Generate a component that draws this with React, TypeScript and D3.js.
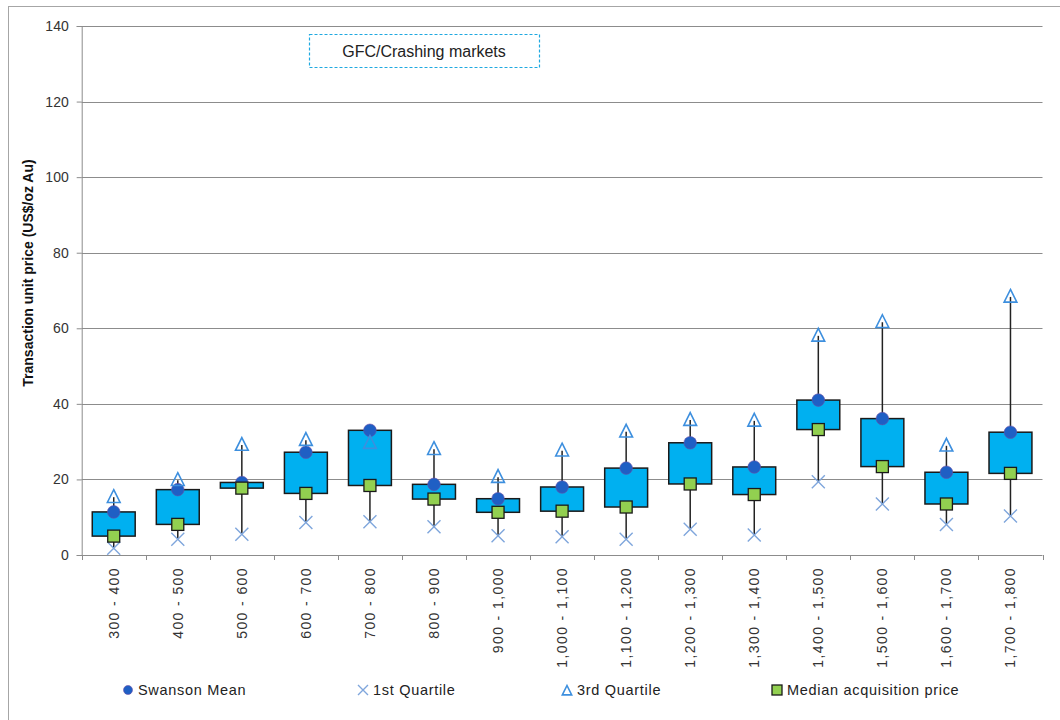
import React, { useEffect, useRef } from "react";
import * as d3 from "d3";

const categories = [
  "300 - 400", "400 - 500", "500 - 600", "600 - 700", "700 - 800",
  "800 - 900", "900 - 1,000", "1,000 - 1,100", "1,100 - 1,200", "1,200 - 1,300",
  "1,300 - 1,400", "1,400 - 1,500", "1,500 - 1,600", "1,600 - 1,700", "1,700 - 1,800",
];
const swansonMean = [11.4, 17.3, 19.2, 27.2, 33.0, 18.7, 14.9, 18.0, 23.0, 29.7, 23.3, 41.0, 36.1, 21.9, 32.5];
const firstQuartile = [1.8, 4.2, 5.5, 8.6, 8.8, 7.5, 5.1, 4.8, 4.2, 6.8, 5.3, 19.4, 13.5, 8.1, 10.3];
const thirdQuartile = [15.3, 19.8, 29.1, 30.4, 29.6, 28.0, 20.6, 27.6, 32.6, 35.7, 35.5, 58.0, 61.6, 28.9, 68.3];
const medianPrice = [5.0, 8.1, 17.7, 16.3, 18.4, 14.8, 11.3, 11.6, 12.7, 18.8, 16.0, 33.2, 23.4, 13.5, 21.6];
const yTicks = [0, 20, 40, 60, 80, 100, 120, 140];
const legendItems = ["Swanson Mean", "1st Quartile", "3rd Quartile", "Median acquisition price"];

const FONT = "'Liberation Sans', Arial, sans-serif";

export default function App() {
  const ref = useRef<SVGSVGElement>(null);

  useEffect(() => {
    if (!ref.current) return;
    const svg = d3.select(ref.current);
    svg.selectAll("*").remove();

    const left = 81.7;
    const right = 1042.5;
    const top = 26;
    const bottom = 555;

    const x = d3.scaleBand().domain(categories).range([left, right]).padding(0);
    const y = d3.scaleLinear().domain([0, 140]).range([bottom, top]);
    const bw = x.bandwidth();
    const boxW = bw * 0.67;

    const rows = categories.map((c, i) => ({
      c,
      mean: swansonMean[i],
      q1: firstQuartile[i],
      q3: thirdQuartile[i],
      med: medianPrice[i],
    }));

    // outer chart border
    svg.append("rect")
      .attr("x", 8.5).attr("y", 6.5).attr("width", 1100).attr("height", 800)
      .attr("fill", "none").attr("stroke", "#a6a6a6").attr("stroke-width", 1);

    // gridlines
    svg.append("g")
      .selectAll("line")
      .data(yTicks.filter((t) => t > 0))
      .enter()
      .append("line")
      .attr("x1", left).attr("x2", right)
      .attr("y1", (d) => Math.round(y(d)) + 0.5)
      .attr("y2", (d) => Math.round(y(d)) + 0.5)
      .attr("stroke", "#8c8c8c").attr("stroke-width", 1);

    // y axis
    const yAxis = svg.append("g")
      .attr("transform", `translate(${left},0)`)
      .call(d3.axisLeft(y).tickValues(yTicks).tickSize(5).tickPadding(8));
    yAxis.selectAll("path, line").attr("stroke", "#8c8c8c");
    yAxis.selectAll("text")
      .attr("font-family", FONT).attr("font-size", 14).attr("fill", "#333");

    // x axis line + boundary ticks
    svg.append("line")
      .attr("x1", left).attr("x2", right)
      .attr("y1", bottom + 0.5).attr("y2", bottom + 0.5)
      .attr("stroke", "#8c8c8c");
    const bounds = categories.map((c) => x(c) as number).concat([right]);
    svg.append("g")
      .selectAll("line")
      .data(bounds)
      .enter()
      .append("line")
      .attr("x1", (d) => Math.round(d) + 0.5).attr("x2", (d) => Math.round(d) + 0.5)
      .attr("y1", bottom).attr("y2", bottom + 5)
      .attr("stroke", "#8c8c8c");

    // x labels
    svg.append("g")
      .selectAll("text")
      .data(categories)
      .enter()
      .append("text")
      .attr("transform", (d) => `translate(${(x(d) as number) + bw / 2 + 5},567) rotate(-90)`)
      .attr("text-anchor", "end")
      .attr("font-family", FONT).attr("font-size", 14).attr("letter-spacing", 1.4)
      .attr("fill", "#333")
      .text((d) => d);

    // y title
    svg.append("text")
      .attr("transform", "translate(33,273) rotate(-90)")
      .attr("text-anchor", "middle")
      .attr("font-family", FONT).attr("font-size", 14).attr("font-weight", "bold")
      .attr("fill", "#111")
      .text("Transaction unit price (US$/oz Au)");

    const cx = (d: { c: string }) => (x(d.c) as number) + bw / 2;

    // high-low lines
    svg.append("g")
      .selectAll("line")
      .data(rows)
      .enter()
      .append("line")
      .attr("x1", cx).attr("x2", cx)
      .attr("y1", (d) => y(Math.max(d.mean, d.q1, d.q3, d.med)))
      .attr("y2", (d) => y(Math.min(d.mean, d.q1, d.q3, d.med)))
      .attr("stroke", "#222").attr("stroke-width", 1.5);

    // up-down bars (mean vs median)
    svg.append("g")
      .selectAll("rect")
      .data(rows)
      .enter()
      .append("rect")
      .attr("x", (d) => cx(d) - boxW / 2)
      .attr("y", (d) => y(Math.max(d.mean, d.med)))
      .attr("width", boxW)
      .attr("height", (d) => Math.abs(y(d.mean) - y(d.med)))
      .attr("fill", "#00b0f0").attr("stroke", "#1a1a1a").attr("stroke-width", 1.5);

    const drawMean = (g: d3.Selection<SVGGElement, unknown, null, undefined>, px: number, py: number, r: number) =>
      g.append("circle").attr("cx", px).attr("cy", py).attr("r", r)
        .attr("fill", "#1f5fc4").attr("stroke", "#6a4fa8").attr("stroke-width", 0.6);
    const drawX = (g: d3.Selection<SVGGElement, unknown, null, undefined>, px: number, py: number, s: number) => {
      g.append("path")
        .attr("d", `M${px - s},${py - s}L${px + s},${py + s}M${px - s},${py + s}L${px + s},${py - s}`)
        .attr("stroke", "#7fa6dc").attr("stroke-width", 1.4).attr("fill", "none");
    };
    const drawTri = (g: d3.Selection<SVGGElement, unknown, null, undefined>, px: number, py: number, s: number) => {
      g.append("path")
        .attr("d", `M${px},${py - s}L${px + s * 0.85},${py + s * 0.7}L${px - s * 0.85},${py + s * 0.7}Z`)
        .attr("stroke", "#3d8fde").attr("stroke-width", 1.6).attr("fill", "none");
    };
    const drawSq = (g: d3.Selection<SVGGElement, unknown, null, undefined>, px: number, py: number, s: number) => {
      g.append("rect").attr("x", px - s / 2).attr("y", py - s / 2).attr("width", s).attr("height", s)
        .attr("fill", "#92d050").attr("stroke", "#1a1a1a").attr("stroke-width", 1.3);
    };

    const markers = svg.append("g");
    rows.forEach((d) => {
      drawMean(markers, cx(d), y(d.mean), 6.3);
      drawX(markers, cx(d), y(d.q1), 6.5);
      drawTri(markers, cx(d), y(d.q3), 7.5);
      drawSq(markers, cx(d), y(d.med), 12);
    });

    // annotation
    svg.append("rect")
      .attr("x", 309.5).attr("y", 34.5).attr("width", 230).attr("height", 33)
      .attr("fill", "#fff").attr("stroke", "#1fa9e1").attr("stroke-width", 1.2)
      .attr("stroke-dasharray", "3,2");
    svg.append("text")
      .attr("x", 424).attr("y", 56.5).attr("text-anchor", "middle")
      .attr("font-family", FONT).attr("font-size", 16).attr("fill", "#222")
      .text("GFC/Crashing markets");

    // legend
    const legendX = [128, 363, 567, 777];
    const ly = 690;
    const lg = svg.append("g");
    legendItems.forEach((label, i) => {
      const px = legendX[i];
      if (i === 0) drawMean(lg, px, ly, 4.5);
      if (i === 1) drawX(lg, px, ly, 5);
      if (i === 2) drawTri(lg, px, ly + 1, 5.5);
      if (i === 3) drawSq(lg, px, ly, 10);
      lg.append("text")
        .attr("x", px + 10).attr("y", ly + 5)
        .attr("font-family", FONT).attr("font-size", 14.5).attr("letter-spacing", 0.7)
        .attr("fill", "#222")
        .text(label);
    });
  }, []);

  return (
    <svg
      ref={ref}
      width={1060}
      height={720}
      style={{ position: "absolute", left: 0, top: 0, background: "#fff" }}
    />
  );
}
